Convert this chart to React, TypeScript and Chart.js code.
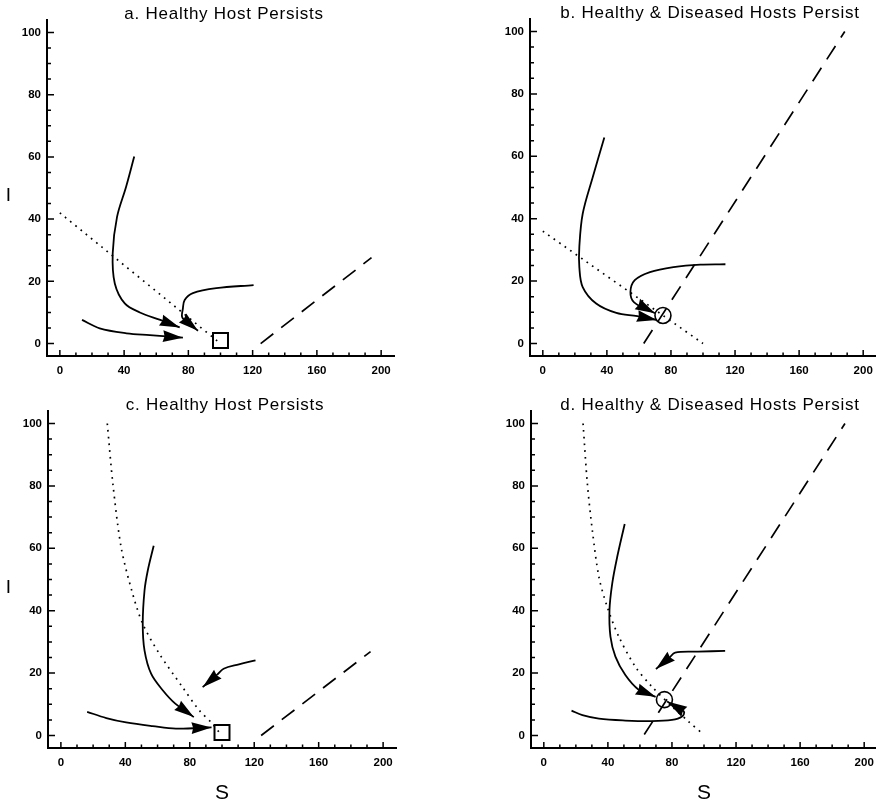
import React, { useEffect, useRef } from "react";
import { Chart, registerables } from "chart.js";
Chart.register(...registerables);

// ---------- axes ----------
const X_TICKS = [0, 40, 80, 120, 160, 200];
const Y_TICKS = [0, 20, 40, 60, 80, 100];
const X_MINOR = [10, 20, 30, 50, 60, 70, 90, 100, 110, 130, 140, 150, 170, 180, 190];
const Y_MINOR = [5, 10, 15, 25, 30, 35, 45, 50, 55, 65, 70, 75, 85, 90, 95];
const X_MIN = -8;
const X_MAX = 208;
const Y_MIN = -4;
const Y_MAX = 104;
const X_LABEL = "S";
const Y_LABEL = "I";

const TITLES = [
  "a. Healthy Host Persists",
  "b. Healthy & Diseased Hosts Persist",
  "c. Healthy Host Persists",
  "d. Healthy & Diseased Hosts Persist",
];

type P = [number, number];

// ---------- panel a ----------
const A_DOTTED: P[] = [[0, 42], [100, 0]];
const A_DASHED: P[] = [[125, 0], [194, 27.6]];
const A_TRAJ_1: P[] = [[46.3, 60.1], [41.2, 50.3], [35.6, 40.7], [32.9, 29], [34.2, 19.3], [40.4, 12.9], [49.8, 10], [62.5, 7.6], [74.6, 5.2]];
const A_TRAJ_2: P[] = [[13.8, 7.6], [24.8, 4.9], [41.5, 3.3], [56, 2.7], [76.6, 1.9]];
const A_TRAJ_3: P[] = [[120.6, 18.8], [97.4, 17.8], [82.8, 16.2], [77.7, 14], [76.6, 11.3], [76.4, 8.2], [86, 4.1]];
const A_EQ: P = [100, 1];

// ---------- panel b ----------
const B_DOTTED: P[] = [[0, 36], [100, 0]];
const B_DASHED: P[] = [[63, 0], [188.5, 100]];
const B_TRAJ_1: P[] = [[38.4, 66], [31.2, 53.4], [24.9, 41.6], [22.8, 31], [22.8, 24.5], [24.9, 18.1], [33.3, 12.8], [45.9, 9.8], [59, 8.8], [71.2, 7.5]];
const B_TRAJ_2: P[] = [[114, 25.4], [98.3, 25.3], [81.6, 24.5], [66.9, 22.9], [57.4, 20.3], [54.7, 16.5], [57, 13.2], [70.1, 9.7]];
const B_EQ: P = [75, 9];

// ---------- panel c ----------
const C_DOTTED: P[] = [[28.8, 100], [32.3, 80.5], [37.4, 60.3], [44, 46.4], [50.8, 35.8], [61.1, 26.2], [75.5, 15.5], [85.8, 8.1], [94, 3.8], [99, 0.5]];
const C_DASHED: P[] = [[124.3, 0], [192.2, 26.9]];
const C_TRAJ_1: P[] = [[57.6, 60.8], [53.9, 52.8], [51.9, 46.4], [50.8, 35.8], [51.9, 27.3], [56, 19.8], [63.2, 14.5], [71, 10.2], [82.5, 5.9]];
const C_TRAJ_2: P[] = [[16.3, 7.6], [28.2, 5.6], [40.5, 4.2], [57, 3], [71.4, 2.2], [93.5, 2.6]];
const C_TRAJ_3: P[] = [[120.8, 24.1], [110.5, 22.8], [101, 21.4], [97, 19.5], [88, 15.5]];
const C_EQ: P = [100, 1];

// ---------- panel d ----------
const D_DOTTED: P[] = [[24.5, 100], [27.2, 80.6], [30.3, 65.7], [34.4, 50.8], [39.6, 41.2], [46.8, 31.7], [57.1, 22.1], [67.4, 15.7], [79.8, 9.4], [90.1, 4.6], [99.8, 0.3]];
const D_DASHED: P[] = [[62.7, 0.3], [188, 100]];
const D_TRAJ_1: P[] = [[50.5, 67.8], [45.8, 57.2], [42.7, 48.7], [41, 40.2], [41.6, 31.7], [44.7, 25.3], [50.9, 19.4], [59.2, 14.7], [69.8, 12.4]];
const D_TRAJ_2: P[] = [[17.3, 8], [24.1, 6.5], [34.4, 5.4], [50.9, 4.8], [67.4, 4.6], [80, 5], [86.3, 6.1], [87.4, 7.7], [77, 10.9]];
const D_TRAJ_3: P[] = [[113.2, 27.1], [96.3, 26.9], [82, 26.6], [78.5, 25], [70, 21.3]];
const D_EQ: P = [75.3, 11.5];

const FONT = "'Liberation Sans', Arial, Helvetica, sans-serif";

const pts = (a: P[]) => a.map(([x, y]) => ({ x, y }));

const solid = (a: P[]) => ({
  data: pts(a),
  showLine: true,
  borderColor: "#000",
  borderWidth: 1.8,
  pointRadius: 0,
  tension: 0.35,
  arrow: true,
});
const dotted = (a: P[]) => ({
  data: pts(a),
  showLine: true,
  borderColor: "#000",
  borderWidth: 1.7,
  borderDash: [1.7, 5],
  pointRadius: 0,
  tension: 0.3,
});
const dashed = (a: P[]) => ({
  data: pts(a),
  showLine: true,
  borderColor: "#000",
  borderWidth: 1.7,
  borderDash: [16, 10],
  pointRadius: 0,
});
const marker = (p: P, style: string) => ({
  data: pts([p]),
  showLine: false,
  pointStyle: style,
  pointRadius: style === "rect" ? 10.6 : 8,
  borderWidth: style === "rect" ? 2 : 1.6,
  borderColor: "#000",
  backgroundColor: "rgba(0,0,0,0)",
});

const decorPlugin = {
  id: "decor",
  afterDatasetsDraw(chart: any) {
    const ctx = chart.ctx;
    const xs = chart.scales.x;
    const ys = chart.scales.y;
    chart.data.datasets.forEach((ds: any) => {
      if (!ds.arrow) return;
      const d = ds.data;
      const n = d.length;
      const tx = xs.getPixelForValue(d[n - 1].x);
      const ty = ys.getPixelForValue(d[n - 1].y);
      const px = xs.getPixelForValue(d[n - 2].x);
      const py = ys.getPixelForValue(d[n - 2].y);
      const ang = Math.atan2(ty - py, tx - px);
      const L = 20;
      const W = 5.8;
      ctx.save();
      ctx.translate(tx, ty);
      ctx.rotate(ang);
      ctx.beginPath();
      ctx.moveTo(0, 0);
      ctx.lineTo(-L, -W);
      ctx.lineTo(-L * 0.92, 0);
      ctx.lineTo(-L, W);
      ctx.closePath();
      ctx.fillStyle = "#000";
      ctx.fill();
      ctx.restore();
    });
  },
  afterDraw(chart: any, _args: any, opts: any) {
    const ctx = chart.ctx;
    const area = chart.chartArea;
    const xs = chart.scales.x;
    const ys = chart.scales.y;
    ctx.save();
    ctx.strokeStyle = "#000";
    ctx.lineWidth = 1.5;
    const tick = (vals: number[], len: number, horiz: boolean) => {
      ctx.beginPath();
      vals.forEach((v) => {
        if (horiz) {
          const p = xs.getPixelForValue(v);
          ctx.moveTo(p, area.bottom);
          ctx.lineTo(p, area.bottom - len);
        } else {
          const p = ys.getPixelForValue(v);
          ctx.moveTo(area.left, p);
          ctx.lineTo(area.left + len, p);
        }
      });
      ctx.stroke();
    };
    tick(X_TICKS, 6, true);
    tick(X_MINOR, 3.5, true);
    tick(Y_TICKS, 7, false);
    tick(Y_MINOR, 4, false);

    ctx.fillStyle = "#000";
    ctx.font = `17px ${FONT}`;
    (ctx as any).letterSpacing = "0.75px";
    ctx.textAlign = "center";
    ctx.textBaseline = "alphabetic";
    ctx.fillText(opts.title, opts.titleX, area.top - 0.7);
    (ctx as any).letterSpacing = "0px";
    if (opts.showY) {
      ctx.font = `19px ${FONT}`;
      ctx.textBaseline = "middle";
      ctx.fillText(Y_LABEL, 8.5, 196);
    }
    ctx.restore();
  },
};

type PanelCfg = {
  left: number;
  top: number;
  w: number;
  h: number;
  padTop: number;
  padRight: number;
  yWidth: number;
  xHeight: number;
  title: string;
  titleX: number;
  showY: boolean;
  showX: boolean;
  datasets: any[];
};

const PANELS: PanelCfg[] = [
  {
    left: 0, top: 0, w: 440, h: 392, padTop: 20, padRight: 46, yWidth: 47, xHeight: 36,
    title: TITLES[0], titleX: 224, showY: true, showX: false,
    datasets: [dotted(A_DOTTED), dashed(A_DASHED), solid(A_TRAJ_1), solid(A_TRAJ_2), solid(A_TRAJ_3), marker(A_EQ, "rect")],
  },
  {
    left: 440, top: 0, w: 460, h: 392, padTop: 19, padRight: 24, yWidth: 90, xHeight: 36,
    title: TITLES[1], titleX: 270, showY: false, showX: false,
    datasets: [dotted(B_DOTTED), dashed(B_DASHED), solid(B_TRAJ_1), solid(B_TRAJ_2), marker(B_EQ, "circle")],
  },
  {
    left: 0, top: 392, w: 440, h: 415, padTop: 19, padRight: 44, yWidth: 48, xHeight: 59,
    title: TITLES[2], titleX: 225, showY: true, showX: true,
    datasets: [dotted(C_DOTTED), dashed(C_DASHED), solid(C_TRAJ_1), solid(C_TRAJ_2), solid(C_TRAJ_3), marker(C_EQ, "rect")],
  },
  {
    left: 440, top: 392, w: 460, h: 415, padTop: 19, padRight: 23, yWidth: 91, xHeight: 59,
    title: TITLES[3], titleX: 270, showY: false, showX: true,
    datasets: [dotted(D_DOTTED), dashed(D_DASHED), solid(D_TRAJ_1), solid(D_TRAJ_2), solid(D_TRAJ_3), marker(D_EQ, "circle")],
  },
];

function Panel({ cfg }: { cfg: PanelCfg }) {
  const ref = useRef<HTMLCanvasElement>(null);
  useEffect(() => {
    const tickFont = { family: FONT, size: 11.5, weight: "bold" as const };
    const chart = new Chart(ref.current as HTMLCanvasElement, {
      type: "scatter",
      data: { datasets: cfg.datasets },
      options: {
        animation: false,
        responsive: false,
        events: [],
        layout: { padding: { top: cfg.padTop, right: cfg.padRight, left: 0, bottom: 0 } },
        plugins: {
          legend: { display: false },
          tooltip: { enabled: false },
          title: { display: false },
          decor: { title: cfg.title, titleX: cfg.titleX, showY: cfg.showY },
        } as any,
        scales: {
          x: {
            type: "linear",
            min: X_MIN,
            max: X_MAX,
            grid: { display: true, drawOnChartArea: false, drawTicks: false },
            border: { display: true, color: "#000", width: 2 },
            ticks: { color: "#000", font: tickFont, padding: 8, maxRotation: 0 },
            afterBuildTicks: (s: any) => {
              s.ticks = X_TICKS.map((v) => ({ value: v }));
            },
            afterFit: (s: any) => {
              s.height = cfg.xHeight;
            },
            title: {
              display: cfg.showX,
              text: X_LABEL,
              color: "#000",
              font: { family: FONT, size: 21, weight: "normal" as const },
              padding: { top: 0, bottom: 1 },
            },
          },
          y: {
            type: "linear",
            min: Y_MIN,
            max: Y_MAX,
            grid: { display: true, drawOnChartArea: false, drawTicks: false },
            border: { display: true, color: "#000", width: 2 },
            ticks: { color: "#000", font: tickFont, padding: 6 },
            afterBuildTicks: (s: any) => {
              s.ticks = Y_TICKS.map((v) => ({ value: v }));
            },
            afterFit: (s: any) => {
              s.width = cfg.yWidth;
            },
          },
        },
      },
      plugins: [decorPlugin],
    } as any);
    return () => chart.destroy();
  }, []);
  return (
    <canvas
      ref={ref}
      width={cfg.w}
      height={cfg.h}
      style={{ position: "absolute", left: cfg.left, top: cfg.top, width: cfg.w, height: cfg.h }}
    />
  );
}

export default function App() {
  return (
    <div
      style={{
        position: "absolute",
        left: 0,
        top: 0,
        width: 876,
        height: 807,
        overflow: "hidden",
        background: "#fff",
      }}
    >
      {PANELS.map((p, i) => (
        <Panel key={i} cfg={p} />
      ))}
    </div>
  );
}
